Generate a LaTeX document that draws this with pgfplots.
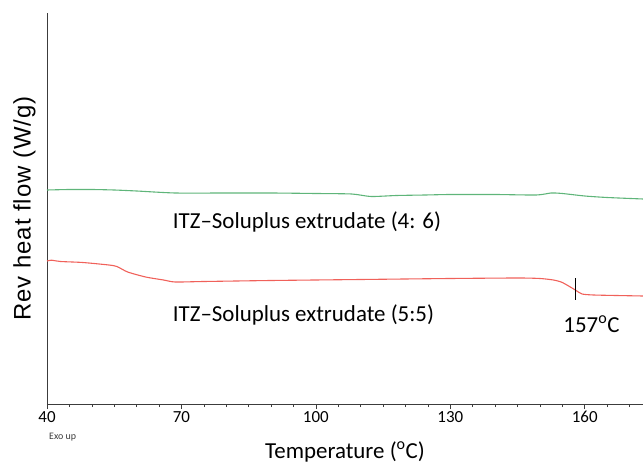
\documentclass[border=0pt]{standalone}
\usepackage{pgfplots}
\pgfplotsset{compat=1.18}
\usepackage{fontspec}
\setmainfont{Carlito}
\newfontfamily\arialf{Liberation Sans}
\definecolor{greenl}{RGB}{95,181,122}
\definecolor{redl}{RGB}{240,97,90}
\definecolor{axg}{RGB}{60,60,60}
\begin{document}
\begin{tikzpicture}
\path[use as bounding box] (-47bp,-62bp) rectangle (596bp,404bp);
\begin{axis}[
  scale only axis,
  width=596bp, height=391bp,
  xmin=40, xmax=173, ymin=0, ymax=391,
  axis x line=bottom, axis y line=left,
  axis line style={-, axg, line width=0.9pt},
  xtick={40,70,100,130,160},
  minor xtick={45,50,...,170},
  ytick=\empty,
  tick align=outside,
  major tick length=5bp, minor tick length=3bp,
  tick style={axg, line width=0.6pt},
  /pgf/number format/assume math mode=true,
  xticklabel style={font=\fontsize{17}{19}\selectfont, yshift=1bp},
  xlabel={Temperature (\textsuperscript{o}C)},
  xlabel style={font=\fontsize{23}{27}\selectfont, yshift=-12bp},
  ylabel={\arialf\addfontfeature{LetterSpace=4}Rev heat flow (W/g)},
  ylabel style={font=\fontsize{24}{28}\selectfont, yshift=3bp},
  clip=false,
]
\addplot[greenl, line width=1.1pt, smooth, tension=0.4] coordinates {
(40,214)(45,214.5)(50,214.5)(55,214)(60,213)(68.6,211)(80,211)(90,211)(100,210.5)(108,210)(112.3,207.5)(118,208.5)(124.4,209)(130,209.5)(140,209.5)(149.2,209)(152.5,211)(155,210.5)(160,208)(165,206.5)(173,205)};
\addplot[redl, line width=1.1pt, smooth, tension=0.4] coordinates {
(40,143)(41,143.8)(43,142.5)(48,141.5)(53.8,139)(55.6,137.5)(58,132)(62,127)(66,124)(68.6,122)(75,122.5)(90,123.5)(110,124.5)(130,125.5)(145,126)(150,125.5)(153,124)(155,121.5)(157.9,114)(159.4,110)(162,109)(167,108.5)(173,108)};
\addplot[black, line width=0.8pt] coordinates {(157.9,104)(157.9,126)};
\node[anchor=west, font=\fontsize{23}{26}\selectfont] at (axis cs:67.3,182) {ITZ–Soluplus extrudate (4: 6)};
\node[anchor=west, font=\fontsize{23}{26}\selectfont] at (axis cs:67.3,89) {ITZ–Soluplus extrudate (5:5)};
\node[font=\fontsize{23}{26}\selectfont] at (axis cs:161.5,80) {157\textsuperscript{o}C};
\node[anchor=west, font=\fontsize{10}{11}\selectfont, text=axg] at (axis cs:39.7,-33) {Exo up};
\end{axis}
\end{tikzpicture}
\end{document}
